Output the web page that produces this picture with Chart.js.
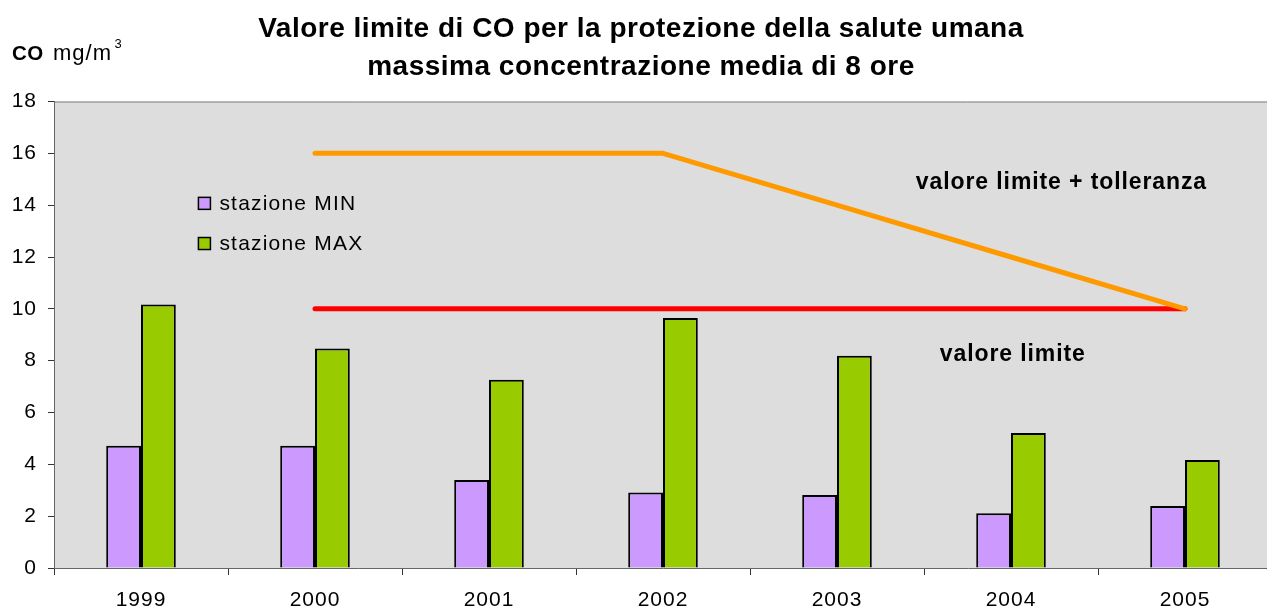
<!DOCTYPE html>
<html>
<head>
<meta charset="utf-8">
<script src="https://cdn.jsdelivr.net/npm/chart.js@4"></script>
<style>
  html, body { margin: 0; padding: 0; background: #fff; overflow: hidden; }
  #wrap { position: relative; width: 1280px; height: 614px; }
</style>
</head>
<body>
<div id="wrap"><canvas id="c"></canvas></div>
<script>
// ---- data ----
const years = ['1999', '2000', '2001', '2002', '2003', '2004', '2005'];
const stazioneMin = [4.72, 4.72, 3.40, 2.91, 2.82, 2.11, 2.39];
const stazioneMax = [10.17, 8.47, 7.26, 9.65, 8.19, 5.21, 4.17];
const limitePiuTolleranza = [null, 16, 16, 16, 14, 12, 10];
const valoreLimite = [null, 10, 10, 10, 10, 10, 10];
const yTicks = [0, 2, 4, 6, 8, 10, 12, 14, 16, 18];
const titleLines = ['Valore limite di CO per la protezione della salute umana', 'massima concentrazione media di 8 ore'];
const seriesNames = ['stazione MIN', 'stazione MAX'];
const lineLabels = ['valore limite + tolleranza', 'valore limite'];

const FONT = '"Liberation Sans", Arial, Helvetica, sans-serif';

const decor = {
  id: 'decor',
  beforeUpdate(chart) { chart.ctx.letterSpacing = '1px'; },
  beforeDraw(chart) {
    const { ctx, chartArea: a } = chart;
    ctx.letterSpacing = '1px';
    ctx.save();
    ctx.fillStyle = '#DDDDDD';
    ctx.fillRect(a.left, a.top, a.right - a.left, a.bottom - a.top);
    ctx.strokeStyle = '#808080';
    ctx.lineWidth = 1;
    ctx.beginPath();
    ctx.moveTo(a.left, a.top + 0.5);
    ctx.lineTo(a.right, a.top + 0.5);
    ctx.stroke();
    ctx.restore();
  },
  afterDraw(chart) {
    const { ctx } = chart;
    const xs = chart.scales.x, ys = chart.scales.y;
    ctx.save();
    ctx.fillStyle = '#000';
    // title
    ctx.letterSpacing = '0.5px';
    ctx.font = 'bold 28px ' + FONT;
    ctx.textAlign = 'center';
    ctx.textBaseline = 'alphabetic';
    ctx.fillText(titleLines[0], 641, 37);
    ctx.fillText(titleLines[1], 641, 75);
    // unit label
    ctx.textAlign = 'left';
    ctx.letterSpacing = '0.5px';
    ctx.font = 'bold 20.5px ' + FONT;
    ctx.fillText('CO', 12, 60);
    ctx.letterSpacing = '1px';
    ctx.font = '22px ' + FONT;
    ctx.fillText('mg/m', 53, 60);
    ctx.letterSpacing = '0px';
    ctx.font = '13px ' + FONT;
    ctx.fillText('3', 114.5, 47.5);
    // legend
    const colors = ['#CC99FF', '#99CC00'];
    const legY = [14.07, 12.52];
    ctx.letterSpacing = '1.2px';
    ctx.font = '21px ' + FONT;
    ctx.textBaseline = 'middle';
    for (let i = 0; i < 2; i++) {
      const px = xs.getPixelForValue(0.33);
      const py = ys.getPixelForValue(legY[i]);
      ctx.fillStyle = colors[i];
      ctx.fillRect(px, py - 6, 12, 12);
      ctx.strokeStyle = '#000';
      ctx.lineWidth = 1.5;
      ctx.strokeRect(px, py - 6, 12, 12);
      ctx.fillStyle = '#000';
      ctx.fillText(seriesNames[i], px + 21, py + 1);
    }
    // line labels
    ctx.letterSpacing = '0.9px';
    ctx.font = 'bold 23px ' + FONT;
    ctx.textAlign = 'center';
    ctx.fillText(lineLabels[0], xs.getPixelForValue(5.29), ys.getPixelForValue(14.85));
    ctx.fillText(lineLabels[1], xs.getPixelForValue(5.01), ys.getPixelForValue(8.25));
    ctx.restore();
  }
};

new Chart(document.getElementById('c'), {
  type: 'bar',
  data: {
    labels: years,
    datasets: [
      { type: 'line', label: lineLabels[0], data: limitePiuTolleranza, borderColor: '#FF9900', borderWidth: 5, pointRadius: 0, borderCapStyle: 'round', borderJoinStyle: 'round', fill: false, tension: 0, order: 0 },
      { type: 'line', label: lineLabels[1], data: valoreLimite, borderColor: '#FF0000', borderWidth: 5, pointRadius: 0, borderCapStyle: 'round', fill: false, tension: 0, order: 0 },
      { label: seriesNames[0], data: stazioneMin, backgroundColor: '#CC99FF', borderColor: '#000', borderWidth: 2, categoryPercentage: 0.4, barPercentage: 1.0, order: 1 },
      { label: seriesNames[1], data: stazioneMax, backgroundColor: '#99CC00', borderColor: '#000', borderWidth: 2, categoryPercentage: 0.4, barPercentage: 1.0, order: 1 }
    ]
  },
  options: {
    responsive: true,
    maintainAspectRatio: false,
    animation: false,
    layout: { padding: { top: 101.5, right: 8, left: 10, bottom: 0 } },
    plugins: { legend: { display: false }, title: { display: false }, tooltip: { enabled: false } },
    scales: {
      x: {
        offset: true,
        afterFit(scale) { scale.height = 46; },
        grid: { offset: true, drawOnChartArea: false, drawTicks: true, tickLength: 7, color: '#333' },
        border: { display: true, color: '#666', width: 1 },
        ticks: { font: { family: FONT, size: 21 }, color: '#000', padding: 13 }
      },
      y: {
        min: 0, max: 18,
        afterFit(scale) { scale.width = 44; },
        afterBuildTicks(scale) { scale.ticks = yTicks.map(v => ({ value: v })); },
        grid: { drawOnChartArea: false, drawTicks: true, tickLength: 6, color: '#333' },
        border: { display: true, color: '#666', width: 1 },
        ticks: { font: { family: FONT, size: 21 }, color: '#000', padding: 11 }
      }
    }
  },
  plugins: [decor]
});
</script>
</body>
</html>
